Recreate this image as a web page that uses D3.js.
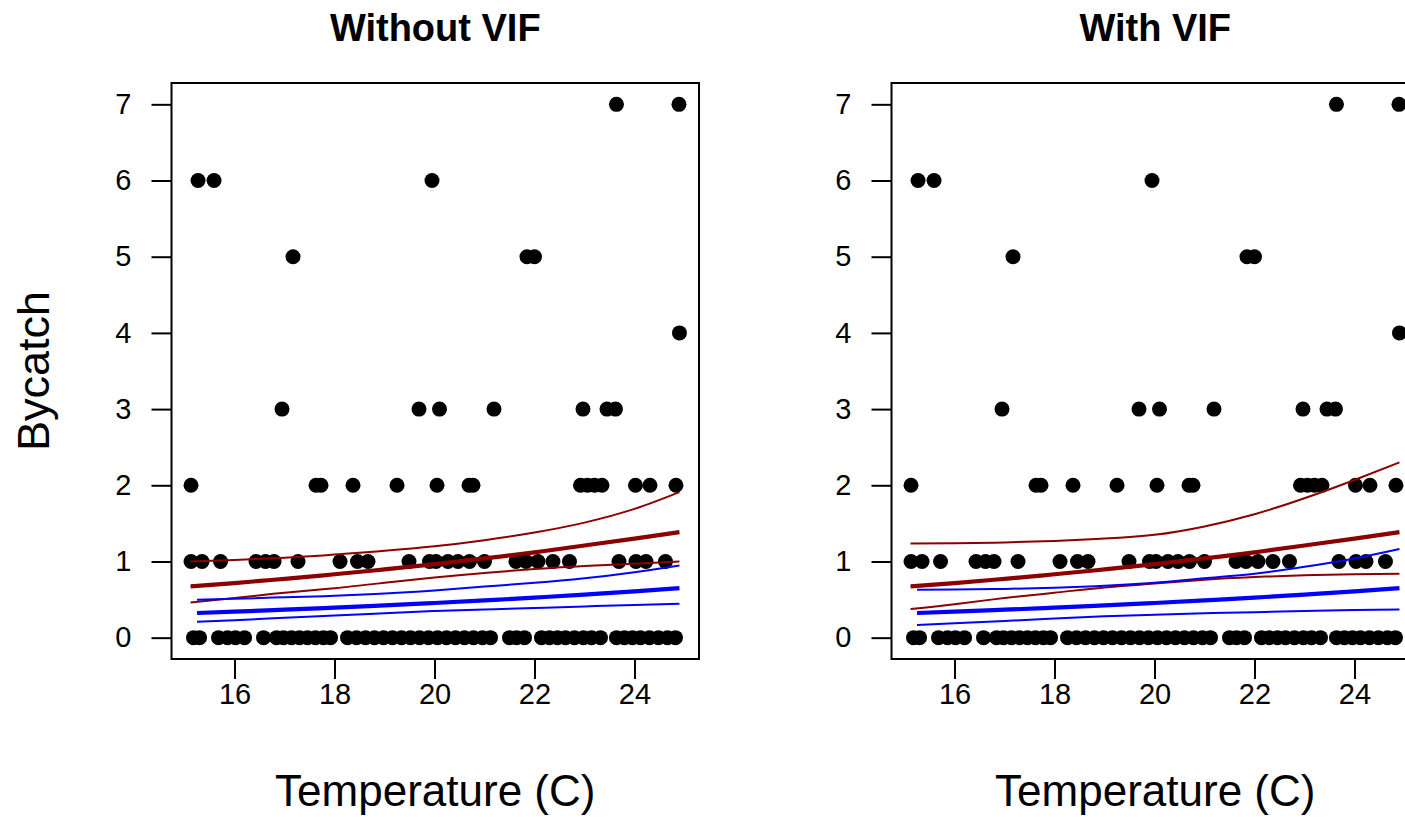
<!DOCTYPE html>
<html>
<head>
<meta charset="utf-8">
<script src="https://cdn.jsdelivr.net/npm/d3@7"></script>
<style>
  body { margin: 0; background: #fff; }
  svg { display: block; }
  text { font-family: "Liberation Sans", Arial, Helvetica, sans-serif; fill: #000; }
</style>
</head>
<body>
<svg id="chart" width="1405" height="817"></svg>
<script>
// Observed hauls: sea temperature (C) and bycatch count, aligned by index
const tempC = [
  // bycatch 7
  23.64, 24.89,
  // bycatch 6
  15.27, 15.59, 19.95,
  // bycatch 5
  17.17, 21.85, 22.00,
  // bycatch 4
  24.90,
  // bycatch 3
  16.95, 19.69, 20.10, 21.19, 22.97, 23.45, 23.62,
  // bycatch 2
  15.13, 17.63, 17.73, 18.37, 19.25, 20.05, 20.69, 20.77, 22.92, 23.06, 23.20, 23.35, 24.02, 24.31, 24.83,
  // bycatch 1
  15.13, 15.35, 15.72, 16.43, 16.62, 16.79, 17.27, 18.11, 18.46, 18.67, 19.49, 19.90, 20.03,
  20.27, 20.47, 20.70, 21.00, 21.63, 21.83, 22.07, 22.37, 22.70, 23.69, 24.03, 24.23, 24.62,
  // bycatch 0
  15.18, 15.30, 15.68, 15.86, 16.02, 16.20, 16.58, 16.84, 16.98, 17.14, 17.30, 17.46, 17.62,
  17.78, 17.92, 18.26, 18.44, 18.62, 18.80, 18.98, 19.16, 19.34, 19.52, 19.70, 19.88, 20.06,
  20.24, 20.42, 20.60, 20.78, 20.96, 21.12, 21.50, 21.64, 21.80, 22.14, 22.30, 22.46, 22.62,
  22.80, 22.98, 23.14, 23.32, 23.64, 23.80, 23.96, 24.12, 24.30, 24.48, 24.66, 24.82
];
const bycatch = [
  7, 7,
  6, 6, 6,
  5, 5, 5,
  4,
  3, 3, 3, 3, 3, 3, 3,
  2, 2, 2, 2, 2, 2, 2, 2, 2, 2, 2, 2, 2, 2, 2,
  1, 1, 1, 1, 1, 1, 1, 1, 1, 1, 1, 1, 1,
  1, 1, 1, 1, 1, 1, 1, 1, 1, 1, 1, 1, 1,
  0, 0, 0, 0, 0, 0, 0, 0, 0, 0, 0, 0, 0,
  0, 0, 0, 0, 0, 0, 0, 0, 0, 0, 0, 0, 0,
  0, 0, 0, 0, 0, 0, 0, 0, 0, 0, 0, 0, 0,
  0, 0, 0, 0, 0, 0, 0, 0, 0, 0, 0, 0
];

// Temperature grids at which the fitted curves are evaluated
const redGrid  = [15.12, 16, 17, 18, 19, 20, 21, 22, 23, 24, 24.9];
const blueGrid = [15.25, 16, 17, 18, 19, 20, 21, 22, 23, 24, 24.9];

// Fitted mean bycatch (thick lines), shared by both models
const redFit  = [0.672, 0.717, 0.772, 0.832, 0.896, 0.965, 1.040, 1.120, 1.210, 1.300, 1.385];
const blueFit = [0.324, 0.342, 0.367, 0.394, 0.424, 0.455, 0.489, 0.526, 0.565, 0.607, 0.651];

// Confidence bands without the variance inflation factor
const noVifRedUpper  = [1.000, 1.020, 1.050, 1.090, 1.140, 1.200, 1.280, 1.380, 1.510, 1.690, 1.910];
const noVifRedLower  = [0.463, 0.520, 0.590, 0.650, 0.720, 0.790, 0.850, 0.900, 0.940, 0.970, 1.000];
const noVifBlueUpper = [0.498, 0.510, 0.530, 0.550, 0.580, 0.620, 0.670, 0.720, 0.780, 0.860, 0.948];
const noVifBlueLower = [0.210, 0.230, 0.260, 0.290, 0.320, 0.350, 0.370, 0.390, 0.410, 0.430, 0.446];

// Confidence bands with the variance inflation factor
const vifRedUpper  = [1.236, 1.240, 1.250, 1.270, 1.300, 1.350, 1.460, 1.620, 1.830, 2.070, 2.300];
const vifRedLower  = [0.376, 0.440, 0.520, 0.590, 0.660, 0.710, 0.760, 0.795, 0.820, 0.833, 0.839];
const vifBlueUpper = [0.629, 0.633, 0.640, 0.655, 0.680, 0.720, 0.780, 0.840, 0.930, 1.040, 1.163];
const vifBlueLower = [0.166, 0.190, 0.220, 0.250, 0.280, 0.300, 0.320, 0.335, 0.350, 0.362, 0.371];

const xTicks = [16, 18, 20, 22, 24];
const yTicks = [0, 1, 2, 3, 4, 5, 6, 7];

const panels = [
  { title: "Without VIF", left: 171.5, showYLabel: true,
    red: [noVifRedUpper, noVifRedLower], blue: [noVifBlueUpper, noVifBlueLower] },
  { title: "With VIF", left: 891.5, showYLabel: false,
    red: [vifRedUpper, vifRedLower], blue: [vifBlueUpper, vifBlueLower] }
];

const RED = "#8B0000", BLUE = "#0000FF";
const plotW = 527.5, plotTop = 83, plotBottom = 659;

// R-style 4% padding on the data range
function padded(ext) { const d = (ext[1] - ext[0]) * 0.04; return [ext[0] - d, ext[1] + d]; }
const xDomain = padded(d3.extent(tempC));
const yDomain = padded([0, 7]);

const svg = d3.select("#chart");

panels.forEach(p => {
  const x = d3.scaleLinear().domain(xDomain).range([p.left, p.left + plotW]);
  const y = d3.scaleLinear().domain(yDomain).range([plotBottom, plotTop]);
  const g = svg.append("g");

  // points
  g.append("g").selectAll("circle")
    .data(tempC.map((t, i) => [t, bycatch[i]]))
    .join("circle")
    .attr("cx", d => x(d[0]))
    .attr("cy", d => y(d[1]))
    .attr("r", 7.5)
    .attr("fill", "#000");

  const line = grid => d3.line()
    .x((v, i) => x(grid[i]))
    .y(v => y(v))
    .curve(d3.curveNatural);

  const drawCurve = (grid, vals, color, w) =>
    g.append("path").attr("d", line(grid)(vals))
      .attr("fill", "none").attr("stroke", color).attr("stroke-width", w);

  drawCurve(redGrid, redFit, RED, 4.2);
  p.red.forEach(v => drawCurve(redGrid, v, RED, 2));
  drawCurve(blueGrid, blueFit, BLUE, 4.2);
  p.blue.forEach(v => drawCurve(blueGrid, v, BLUE, 2));

  // axes
  const xAxis = g.append("g")
    .attr("transform", `translate(0,${plotBottom})`)
    .call(d3.axisBottom(x).tickValues(xTicks).tickSize(20).tickPadding(4).tickFormat(d3.format("d")));
  const yAxis = g.append("g")
    .attr("transform", `translate(${p.left},0)`)
    .call(d3.axisLeft(y).tickValues(yTicks).tickSize(20).tickPadding(20).tickFormat(d3.format("d")));
  [xAxis, yAxis].forEach(a => {
    a.select(".domain").remove();
    a.selectAll(".tick line").attr("stroke", "#000").attr("stroke-width", 2);
    a.selectAll(".tick text")
      .style("font-family", '"Liberation Sans", Arial, sans-serif')
      .style("font-size", "29px").attr("fill", "#000");
  });

  // plot frame
  g.append("rect")
    .attr("x", p.left).attr("y", plotTop)
    .attr("width", plotW).attr("height", plotBottom - plotTop)
    .attr("fill", "none").attr("stroke", "#000").attr("stroke-width", 2);

  const cx = p.left + plotW / 2;
  g.append("text")
    .attr("x", cx).attr("y", 41)
    .attr("text-anchor", "middle")
    .style("font-size", "38px").style("font-weight", "bold")
    .text(p.title);

  g.append("text")
    .attr("x", cx).attr("y", 806)
    .attr("text-anchor", "middle")
    .style("font-size", "44px")
    .text("Temperature (C)");

  if (p.showYLabel) {
    g.append("text")
      .attr("transform", `translate(49,${(plotTop + plotBottom) / 2}) rotate(-90)`)
      .attr("text-anchor", "middle")
      .style("font-size", "45px")
      .text("Bycatch");
  }
});
</script>
</body>
</html>
